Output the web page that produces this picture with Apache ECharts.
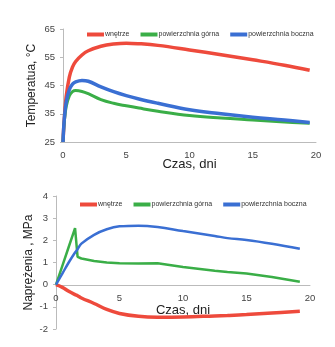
<!DOCTYPE html>
<html><head><meta charset="utf-8">
<script src="https://cdn.jsdelivr.net/npm/echarts@6/dist/echarts.min.js"></script>
<style>html,body{margin:0;padding:0;background:#fff}#c{width:335px;height:347px}</style>
</head><body><div id="c"></div>
<script>
var seriesNames = ['wnętrze', 'powierzchnia górna', 'powierzchnia boczna'];
var topXTicks = [0, 5, 10, 15, 20];
var topYTicks = [25, 35, 45, 55, 65];
var botYTicks = [-2, -1, 0, 1, 2, 3, 4];

var tTop = [0, 0.1, 0.25, 0.5, 0.75, 1, 1.5, 2, 3, 4, 5, 6, 7.5, 10, 12.5, 15, 17.5, 19.5];
var tempInner = [25, 33, 41, 48, 51.5, 53.5, 55.8, 57.3, 58.9, 59.7, 60, 59.8, 59.2, 57.6, 55.9, 54.1, 52.2, 50.4];
var tempTop   = [25, 32, 37.5, 41.3, 42.8, 43.2, 42.9, 42.1, 40, 38.7, 37.8, 37, 35.9, 34.4, 33.5, 32.8, 32.1, 31.6];
var tempSide  = [25, 33, 39, 43.5, 45.5, 46.3, 46.8, 46.5, 44.5, 42.8, 41.4, 40.2, 38.7, 36.4, 35, 33.8, 32.8, 31.9];

var tBot = [0, 0.5, 1, 1.5, 1.7, 2, 3, 4, 5, 6.5, 8, 10, 12.5, 13.5, 15, 17, 19.2];
var stressInner = [0, -0.12, -0.3, -0.45, -0.5, -0.6, -0.85, -1.12, -1.3, -1.43, -1.47, -1.46, -1.41, -1.39, -1.35, -1.28, -1.2];
var stressTop   = [0, 0.85, 1.7, 2.55, 1.25, 1.18, 1.07, 1.0, 0.97, 0.96, 0.97, 0.8, 0.63, 0.57, 0.5, 0.35, 0.13];
var stressSide  = [0, 0.5, 1.0, 1.45, 1.6, 1.85, 2.25, 2.5, 2.63, 2.66, 2.6, 2.42, 2.2, 2.1, 2.02, 1.85, 1.62];

var colors = ['#ee4a3c', '#3aae47', '#3a6fd3'];
function pairs(t, v) { return t.map(function (x, i) { return [x, v[i]]; }); }

var font = 'Liberation Sans, Arial, sans-serif';
var axLine = { show: true, onZero: false, lineStyle: { color: '#bbb', width: 1 } };
var axLabel = { color: '#444', fontSize: 9.5, fontFamily: font };
var xNameStyle = { color: '#222', fontSize: 13, fontFamily: font };
var yNameStyle = { color: '#222', fontSize: 12, fontFamily: font };

function legendFor(top, left) {
  return { top: top, left: left, width: 300, padding: 0, itemWidth: 17, itemHeight: 4, itemGap: 11, icon: 'rect',
    textStyle: { fontSize: 7, color: '#333', fontFamily: font, padding: [0, 0, 0, -4] },
    data: seriesNames.map(function (n, i) { return { name: n, itemStyle: { color: colors[i] } }; }) };
}

var chart = echarts.init(document.getElementById('c'));
chart.setOption({
  animation: false,
  backgroundColor: '#fff',
  legend: [legendFor(31, 87), legendFor(201, 80)],
  grid: [
    { left: 63, top: 29, width: 253, height: 113, outerBoundsMode: 'none', containLabel: false },
    { left: 56, top: 196, width: 254, height: 133, outerBoundsMode: 'none', containLabel: false }
  ],
  xAxis: [
    { gridIndex: 0, type: 'value', min: 0, max: 20, interval: 5, splitLine: { show: false },
      axisLine: axLine, axisTick: { show: false }, axisLabel: axLabel,
      name: 'Czas, dni', nameLocation: 'middle', nameGap: 16, nameMoveOverlap: false, nameTextStyle: xNameStyle },
    { gridIndex: 1, type: 'value', min: 0, max: 20, interval: 5, splitLine: { show: false }, offset: -44,
      axisLine: axLine, axisTick: { show: false }, axisLabel: axLabel,
      name: 'Czas, dni', nameLocation: 'middle', nameGap: 19, nameMoveOverlap: false, nameTextStyle: xNameStyle }
  ],
  yAxis: [
    { gridIndex: 0, type: 'value', min: 25, max: 65, interval: 10, splitLine: { show: false },
      axisLine: axLine, axisTick: { show: true, length: 3, lineStyle: { color: '#bbb' } }, axisLabel: axLabel,
      name: 'Temperatua, °C', nameLocation: 'middle', nameGap: 25, nameMoveOverlap: false, nameTextStyle: yNameStyle },
    { gridIndex: 1, type: 'value', min: -2, max: 4, interval: 1, splitLine: { show: false },
      axisLine: axLine, axisTick: { show: true, length: 3, lineStyle: { color: '#bbb' } }, axisLabel: axLabel,
      name: 'Naprężenia , MPa', nameLocation: 'middle', nameGap: 21, nameMoveOverlap: false, nameTextStyle: yNameStyle }
  ],
  series: [
    { name: seriesNames[0], type: 'line', xAxisIndex: 0, yAxisIndex: 0, smooth: 0.4, showSymbol: false,
      lineStyle: { color: colors[0], width: 3.5 }, itemStyle: { color: colors[0] }, data: pairs(tTop, tempInner) },
    { name: seriesNames[1], type: 'line', xAxisIndex: 0, yAxisIndex: 0, smooth: 0.4, showSymbol: false,
      lineStyle: { color: colors[1], width: 3 }, itemStyle: { color: colors[1] }, data: pairs(tTop, tempTop) },
    { name: seriesNames[2], type: 'line', xAxisIndex: 0, yAxisIndex: 0, smooth: 0.4, showSymbol: false,
      lineStyle: { color: colors[2], width: 3.5 }, itemStyle: { color: colors[2] }, data: pairs(tTop, tempSide) },
    { name: seriesNames[0], type: 'line', xAxisIndex: 1, yAxisIndex: 1, smooth: 0.4, showSymbol: false,
      lineStyle: { color: colors[0], width: 3.5 }, itemStyle: { color: colors[0] }, data: pairs(tBot, stressInner) },
    { name: seriesNames[1], type: 'line', xAxisIndex: 1, yAxisIndex: 1, smooth: false, showSymbol: false,
      lineStyle: { color: colors[1], width: 2.5 }, itemStyle: { color: colors[1] }, data: pairs(tBot, stressTop) },
    { name: seriesNames[2], type: 'line', xAxisIndex: 1, yAxisIndex: 1, smooth: 0.4, showSymbol: false,
      lineStyle: { color: colors[2], width: 2.5 }, itemStyle: { color: colors[2] }, data: pairs(tBot, stressSide) }
  ]
});
</script></body></html>
